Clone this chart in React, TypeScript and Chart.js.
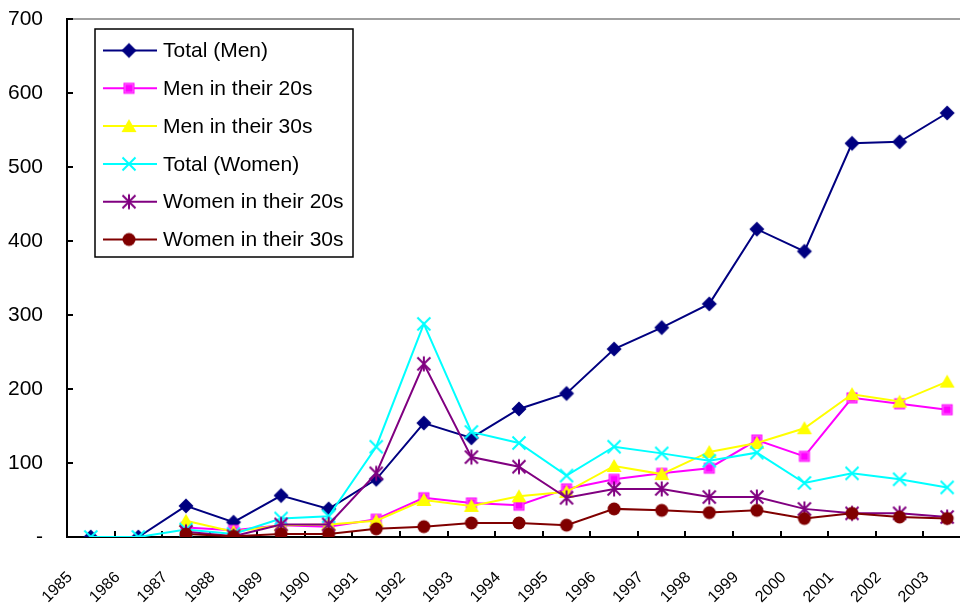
import React, { useEffect, useRef } from "react";
import { Chart, registerables } from "chart.js";

Chart.register(...registerables);

const years = ["1985","1986","1987","1988","1989","1990","1991","1992","1993","1994","1995","1996","1997","1998","1999","2000","2001","2002","2003"];
const totalMen = [0, 0, 42, 20, 56, 38, 78, 154, 134, 173, 194, 254, 283, 315, 416, 386, 532, 534, 573];
const men20s = [null, null, 13, 9, 16, 14, 24, 53, 46, 43, 65, 78, 86, 93, 131, 109, 188, 180, 172];
const men30s = [null, null, 22, 7, 16, 17, 22, 50, 42, 55, 61, 96, 85, 115, 127, 147, 193, 183, 210];
const totalWomen = [0, 0, 10, 4, 25, 28, 122, 288, 142, 127, 83, 122, 113, 103, 114, 73, 86, 78, 67];
const women20s = [null, null, 7, 1, 17, 17, 86, 234, 108, 95, 53, 65, 65, 54, 54, 38, 32, 32, 27];
const women30s = [null, null, 4, 1, 4, 4, 11, 14, 19, 19, 16, 38, 36, 33, 36, 25, 32, 27, 25];
const yTicks = [0, 100, 200, 300, 400, 500, 600, 700];

const seriesNames = ["Total (Men)", "Men in their 20s", "Men in their 30s", "Total (Women)", "Women in their 20s", "Women in their 30s"];
const seriesColors = ["#000080", "#FF00FF", "#FFFF00", "#00FFFF", "#800080", "#800000"];
const seriesMarkers = ["diamond", "square", "triangle", "x", "asterisk", "circle"];

const FONT = '"Liberation Sans", Arial, sans-serif';

function makeMarker(kind: string, color: string): HTMLCanvasElement {
  const c = document.createElement("canvas");
  const s = 18;
  c.width = s;
  c.height = s;
  const g = c.getContext("2d")!;
  const m = s / 2;
  g.fillStyle = color;
  g.strokeStyle = color;
  g.lineWidth = 2;
  g.beginPath();
  if (kind === "diamond") {
    const r = 7.5;
    g.moveTo(m, m - r); g.lineTo(m + r, m); g.lineTo(m, m + r); g.lineTo(m - r, m); g.closePath(); g.fill();
  } else if (kind === "square") {
    const r = 5.5;
    g.rect(m - r, m - r, 2 * r, 2 * r); g.fill();
    g.strokeStyle = "#FF66FF"; g.lineWidth = 1;
    g.strokeRect(m - r + 1.5, m - r + 1.5, 2 * r - 3, 2 * r - 3);
  } else if (kind === "triangle") {
    g.moveTo(m, m - 7); g.lineTo(m + 7.5, m + 6); g.lineTo(m - 7.5, m + 6); g.closePath(); g.fill();
  } else if (kind === "x") {
    const r = 6.5;
    g.moveTo(m - r, m - r); g.lineTo(m + r, m + r); g.moveTo(m + r, m - r); g.lineTo(m - r, m + r); g.stroke();
  } else if (kind === "asterisk") {
    const r = 6.5;
    g.moveTo(m - r, m - r); g.lineTo(m + r, m + r); g.moveTo(m + r, m - r); g.lineTo(m - r, m + r);
    g.moveTo(m, m - r - 1); g.lineTo(m, m + r + 1); g.stroke();
  } else {
    g.arc(m, m, 6.5, 0, Math.PI * 2); g.fill();
  }
  return c;
}

function zeroPad(s: any) {
  s.paddingLeft = 0;
  s.paddingRight = 0;
  s.paddingTop = 0;
  s.paddingBottom = 0;
}

export default function App() {
  const ref = useRef<HTMLCanvasElement | null>(null);
  useEffect(() => {
    document.body.style.margin = "0";
    document.documentElement.style.overflow = "hidden";
    const markers = seriesMarkers.map((k, i) => makeMarker(k, seriesColors[i]));
    const allSeries = [totalMen, men20s, men30s, totalWomen, women20s, women30s];
    const datasets = allSeries.map((vals, i) => ({
      label: seriesNames[i],
      data: vals.map((v, j) => ({ x: j + 0.5, y: v })),
      borderColor: seriesColors[i],
      backgroundColor: seriesColors[i],
      borderWidth: 2,
      pointStyle: markers[i],
      pointRadius: 7,
      pointHoverRadius: 7,
      spanGaps: false,
      tension: 0,
      order: 5 - i,
    }));

    const tickPlugin = {
      id: "innerTicks",
      beforeDatasetsDraw(chart: any) {
        const { ctx, chartArea, scales } = chart;
        const x = scales.x, y = scales.y;
        ctx.save();
        ctx.strokeStyle = "#000";
        ctx.lineWidth = 2;
        ctx.beginPath();
        for (let i = 1; i < years.length; i++) {
          const px = Math.round(x.getPixelForValue(i));
          ctx.moveTo(px, chartArea.bottom);
          ctx.lineTo(px, chartArea.bottom - 6);
        }
        yTicks.forEach((v) => {
          if (v === 0) return;
          const py = y.getPixelForValue(v);
          ctx.moveTo(chartArea.left, py);
          ctx.lineTo(chartArea.left + 6, py);
        });
        ctx.stroke();
        ctx.restore();
      },
    };

    const legendPlugin = {
      id: "boxLegend",
      afterDatasetsDraw(chart: any) {
        const { ctx } = chart;
        ctx.save();
        ctx.fillStyle = "#fff";
        ctx.fillRect(95, 29, 258, 228);
        ctx.strokeStyle = "#000";
        ctx.lineWidth = 1.5;
        ctx.strokeRect(95, 29, 258, 228);
        ctx.font = `21px ${FONT}`;
        ctx.textBaseline = "middle";
        ctx.textAlign = "left";
        seriesNames.forEach((name, i) => {
          const cy = 50.5 + i * 37.8;
          ctx.strokeStyle = seriesColors[i];
          ctx.lineWidth = 2;
          ctx.beginPath();
          ctx.moveTo(103, cy);
          ctx.lineTo(157, cy);
          ctx.stroke();
          const mk = markers[i];
          ctx.drawImage(mk, 129 - mk.width / 2, cy - mk.height / 2);
          ctx.fillStyle = "#000";
          ctx.fillText(name, 163, cy + 1);
        });
        ctx.restore();
      },
    };

    const chart = new Chart(ref.current!, {
      type: "line",
      data: { datasets },
      plugins: [tickPlugin, legendPlugin],
      options: {
        animation: false,
        responsive: true,
        maintainAspectRatio: false,
        layout: { padding: { top: 19, right: 0, left: 0, bottom: 0 } },
        plugins: { legend: { display: false }, tooltip: { enabled: false } },
        scales: {
          x: {
            type: "linear",
            min: 0,
            max: 18.77,
            grid: { display: false, drawTicks: false },
            border: { color: "#000", width: 2 },
            ticks: {
              stepSize: 1,
              autoSkip: false,
              includeBounds: false,
              maxRotation: 45,
              minRotation: 45,
              padding: 31,
              labelOffset: 3,
              color: "#000",
              font: { family: '"Liberation Sans Narrow", "Liberation Sans", Arial', size: 16 },
              callback: (v: any) => {
                const n = Number(v);
                return Number.isInteger(n) && n >= 0 && n < years.length ? years[n] : "";
              },
            },
            afterFit: (s: any) => {
              s.height = 69;
              zeroPad(s);
            },
          },
          y: {
            min: 0,
            max: 700,
            grid: {
              drawTicks: false,
              lineWidth: 2,
              color: (c: any) => (c.tick && c.tick.value === 700 ? "#a0a0a0" : "rgba(0,0,0,0)"),
            },
            border: { color: "#000", width: 2 },
            ticks: {
              stepSize: 100,
              padding: 24,
              color: "#000",
              font: { family: FONT, size: 21 },
              callback: (v: any) => (Number(v) === 0 ? "-" : String(v)),
            },
            afterFit: (s: any) => {
              s.width = 67;
              zeroPad(s);
            },
          },
        },
      },
    } as any);
    return () => chart.destroy();
  }, []);

  return (
    <div style={{ position: "fixed", left: 0, top: 0, width: 969, height: 606, background: "#fff" }}>
      <canvas ref={ref} />
    </div>
  );
}
